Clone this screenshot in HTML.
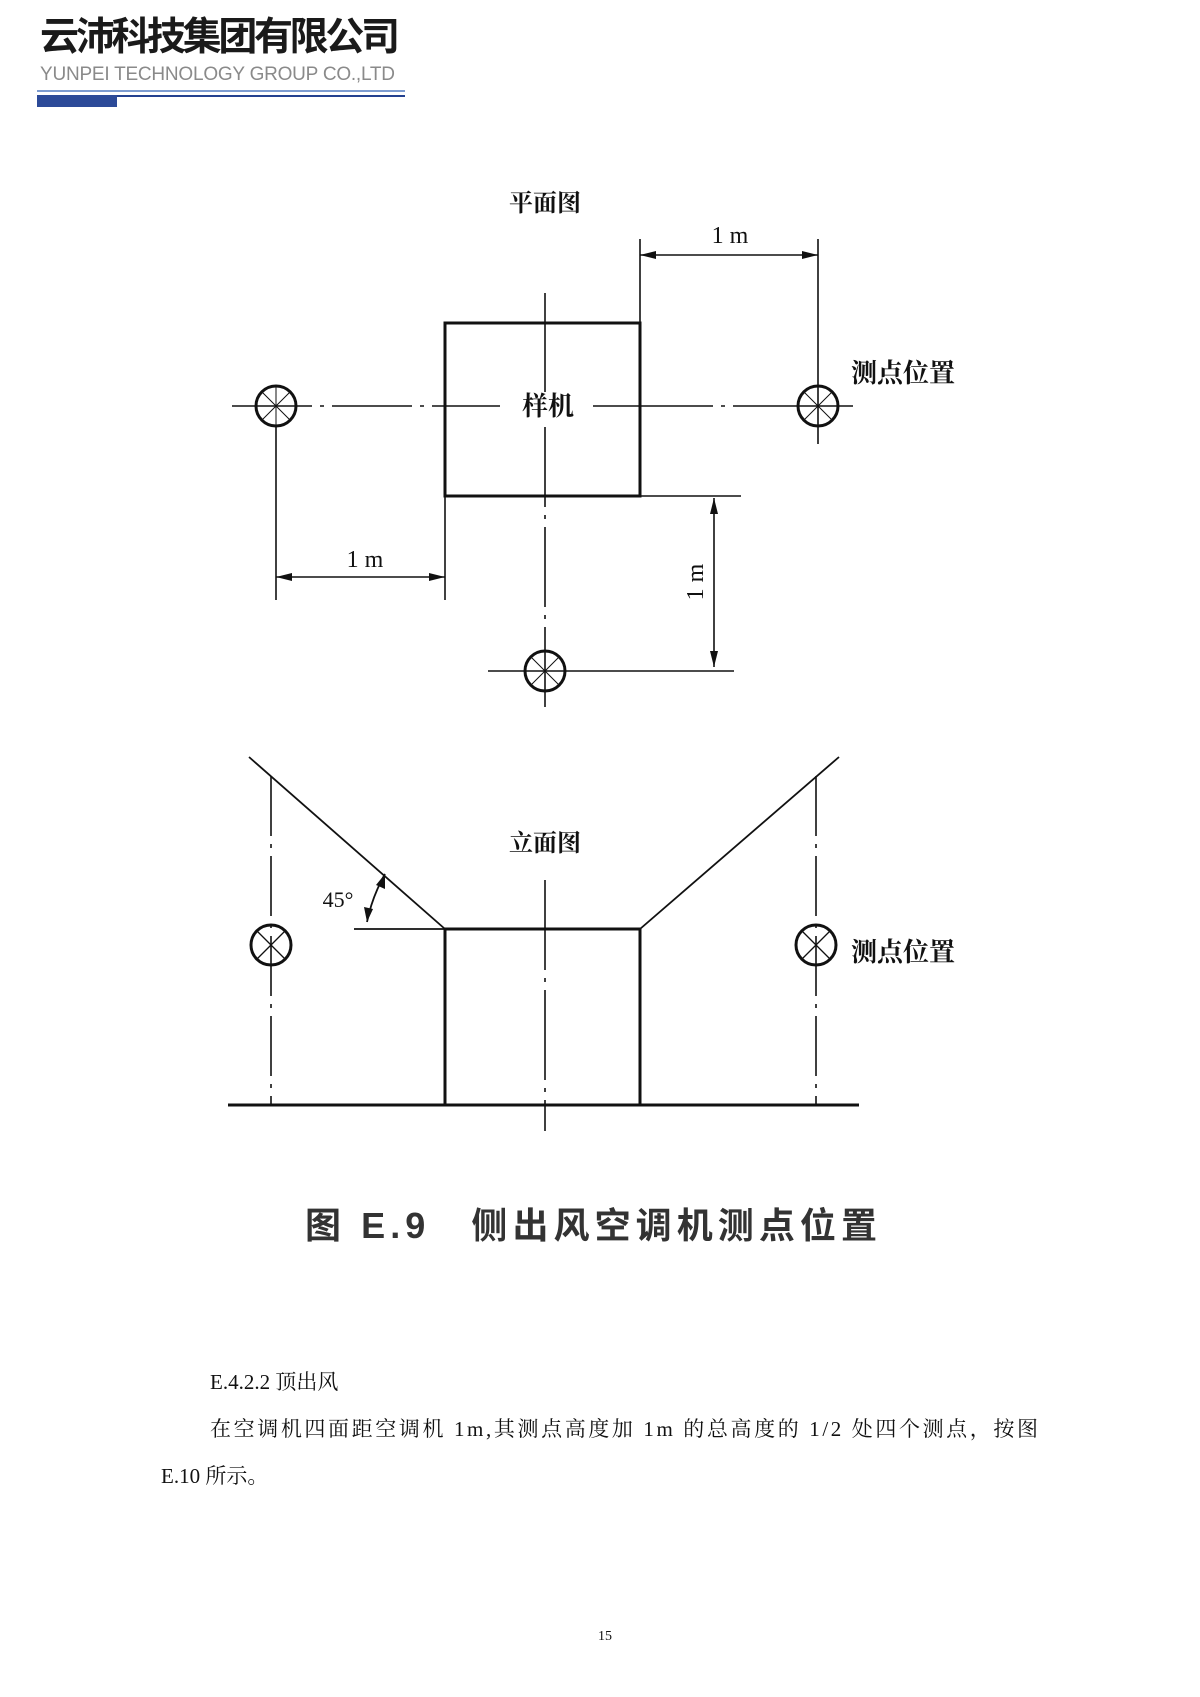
<!DOCTYPE html>
<html><head><meta charset="utf-8"><style>
body{margin:0;background:#fff}
svg{display:block}
</style></head><body>
<svg width="1200" height="1697" viewBox="0 0 1200 1697" xmlns="http://www.w3.org/2000/svg">
<text x="40" y="50" font-family="Noto Sans CJK SC, sans-serif" font-weight="bold" font-size="39" fill="#1a1a1a" textLength="360">云沛科技集团有限公司</text>
<text x="40" y="80" font-family="Liberation Sans, sans-serif" font-size="19" fill="#8a8a8a" textLength="355">YUNPEI TECHNOLOGY GROUP CO.,LTD</text>
<rect x="37" y="90" width="368" height="2" fill="#7c9bd0"/>
<rect x="37" y="95" width="368" height="2" fill="#23408f"/>
<rect x="37" y="95" width="80" height="12" fill="#2c4a98"/>

<g transform="translate(0,-3)">
<g font-family="Liberation Serif, Noto Serif CJK SC, serif" fill="#111">
<text x="545" y="214" text-anchor="middle" font-size="24" font-weight="bold">平面图</text>
<text x="730" y="246" text-anchor="middle" font-size="24">1 m</text>
<text x="365" y="570" text-anchor="middle" font-size="24">1 m</text>
<text transform="translate(703,585) rotate(-90)" text-anchor="middle" font-size="24">1 m</text>
<text x="903" y="385" text-anchor="middle" font-size="26" font-weight="bold">测点位置</text>
<text x="548" y="418" text-anchor="middle" font-size="26" font-weight="bold">样机</text>
<text x="545" y="854" text-anchor="middle" font-size="24" font-weight="bold">立面图</text>
<text x="338" y="910" text-anchor="middle" font-size="22">45°</text>
<text x="903" y="964" text-anchor="middle" font-size="26" font-weight="bold">测点位置</text>
</g>

<g stroke="#111" fill="none">
<rect x="445" y="326" width="195" height="173" stroke-width="3"/>
<line x1="545" y1="296" x2="545" y2="395" stroke-width="1.6"/>
<line x1="545" y1="430" x2="545" y2="714" stroke-width="1.6" stroke-dasharray="80,8,4,8"/>
<line x1="232" y1="409" x2="500" y2="409" stroke-width="1.6" stroke-dasharray="80,8,4,8"/>
<line x1="593" y1="409" x2="854" y2="409" stroke-width="1.6" stroke-dasharray="120,8,4,8"/>
<g stroke-width="3">
<circle cx="276" cy="409" r="20"/><circle cx="818" cy="409" r="20"/><circle cx="545" cy="674" r="20"/>
</g>
<g stroke-width="1">
<path d="M262 395L290 423M290 395L262 423M276 389V429M256 409H296"/>
<path d="M804 395L832 423M832 395L804 423M818 389V429"/>
<path d="M531 660L559 688M559 660L531 688M545 654V694M525 674H565"/>
</g>
<line x1="488" y1="674" x2="734" y2="674" stroke-width="1.6"/>
<line x1="640" y1="242" x2="640" y2="326" stroke-width="1.6"/>
<line x1="818" y1="242" x2="818" y2="447" stroke-width="1.6"/>
<line x1="640" y1="258" x2="818" y2="258" stroke-width="1.6"/>
<line x1="276" y1="429" x2="276" y2="603" stroke-width="1.6"/>
<line x1="445" y1="499" x2="445" y2="603" stroke-width="1.6"/>
<line x1="276" y1="580" x2="445" y2="580" stroke-width="1.6"/>
<line x1="640" y1="499" x2="741" y2="499" stroke-width="1.6"/>
<line x1="714" y1="501" x2="714" y2="670" stroke-width="1.6"/>

<line x1="228" y1="1108" x2="859" y2="1108" stroke-width="3"/>
<path d="M445 1108V932H640V1108" stroke-width="3"/>
<line x1="249" y1="760" x2="445" y2="932" stroke-width="1.8"/>
<line x1="640" y1="932" x2="839" y2="760" stroke-width="1.8"/>
<line x1="354" y1="932" x2="445" y2="932" stroke-width="1.8"/>
<line x1="271" y1="779" x2="271" y2="1108" stroke-width="1.6" stroke-dasharray="60,8,4,8"/>
<line x1="816" y1="779" x2="816" y2="1108" stroke-width="1.6" stroke-dasharray="60,8,4,8"/>
<line x1="545" y1="883" x2="545" y2="1134" stroke-width="1.6" stroke-dasharray="90,8,4,8"/>
<g stroke-width="3"><circle cx="271" cy="948" r="20"/><circle cx="816" cy="948" r="20"/></g>
<path d="M257 934L285 962M285 934L257 962M802 934L830 962M830 934L802 962" stroke-width="1.3"/>
<path d="M385 877Q372 900 367 925" stroke-width="1.8"/>
</g>
<g fill="#111">
<polygon points="640,258 656,254 656,262"/><polygon points="818,258 802,254 802,262"/>
<polygon points="276,580 292,576 292,584"/><polygon points="445,580 429,576 429,584"/>
<polygon points="714,501 710,517 718,517"/><polygon points="714,670 710,654 718,654"/>
<polygon points="385,877 376,888 385,892"/><polygon points="367,925 364,910 373,912"/>
</g>
</g>

<text x="305" y="1238" font-family="Liberation Sans, Noto Sans CJK SC, sans-serif" font-weight="bold" font-size="36" fill="#333" textLength="572">图 E.9　侧出风空调机测点位置</text>

<g font-family="Liberation Serif, Noto Serif CJK SC, serif" font-size="21" fill="#111">
<text x="210" y="1389">E.4.2.2 顶出风</text>
<text x="210" y="1436" textLength="828">在空调机四面距空调机 1m,其测点高度加 1m 的总高度的 1/2 处四个测点，按图</text>
<text x="161" y="1483">E.10 所示。</text>
<text x="605" y="1640" text-anchor="middle" font-size="14">15</text>
</g>
</svg>
</body></html>
